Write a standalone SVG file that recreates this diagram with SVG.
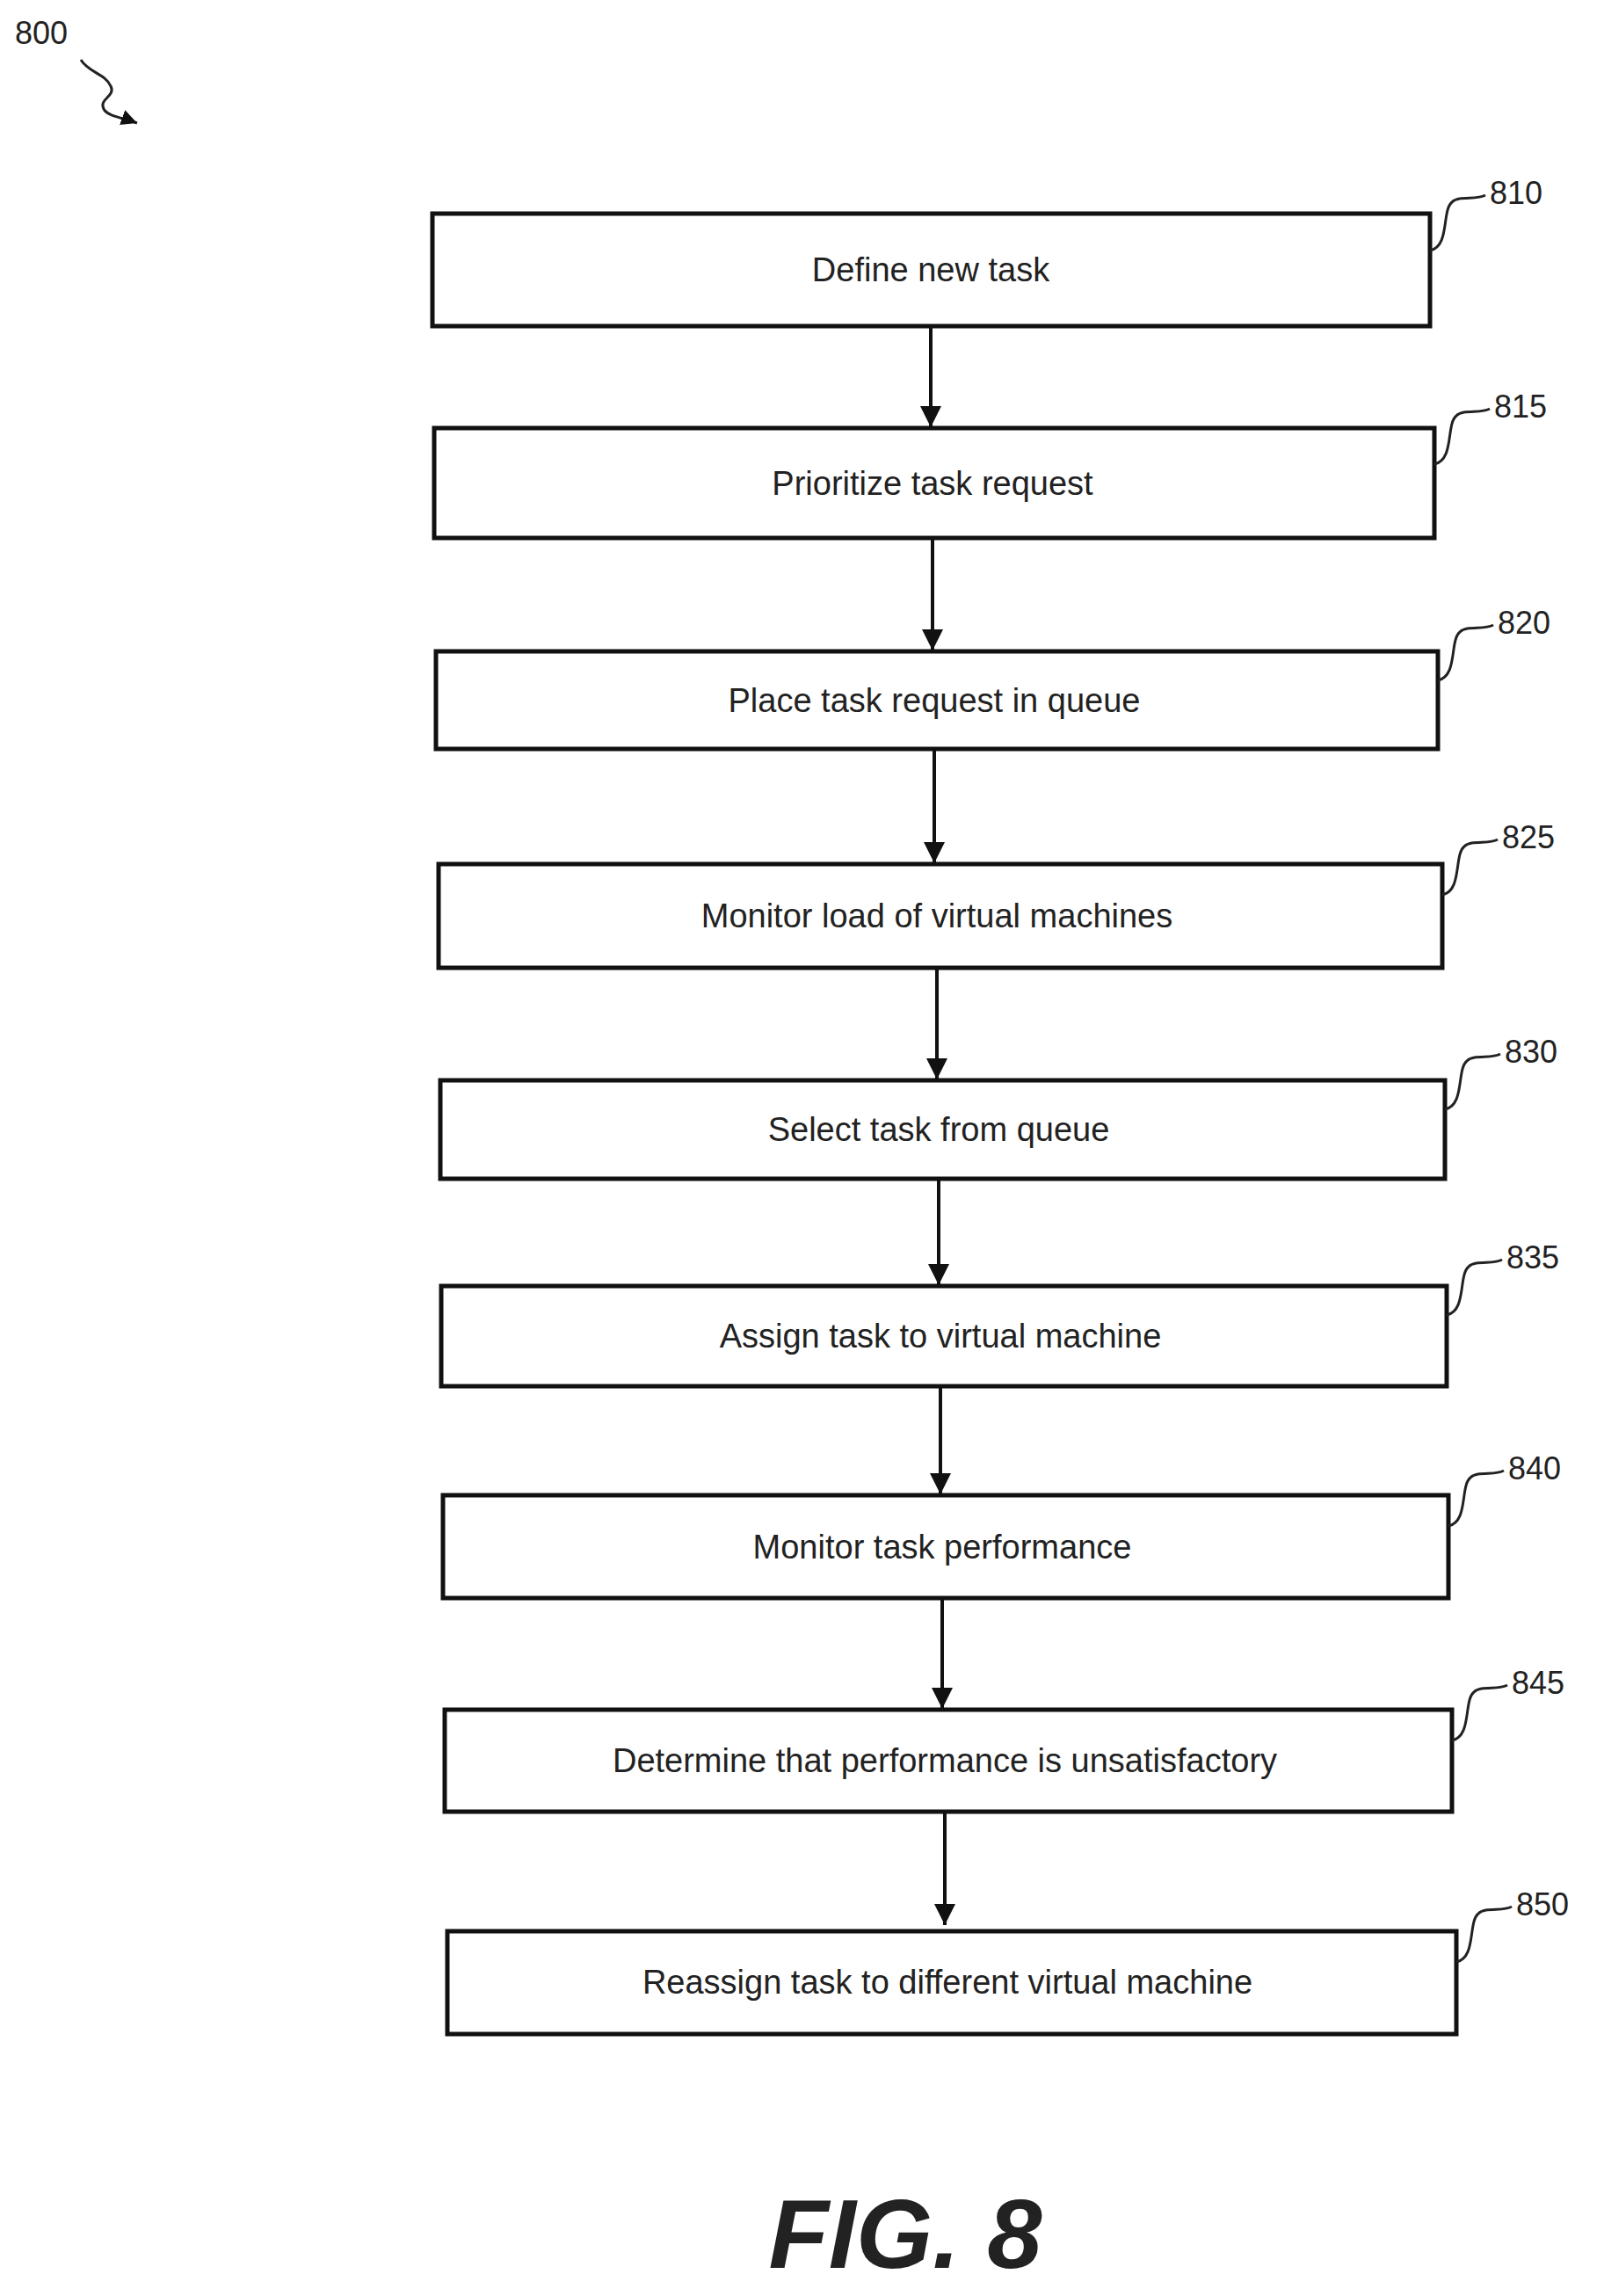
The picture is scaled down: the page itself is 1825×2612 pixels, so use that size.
<svg xmlns="http://www.w3.org/2000/svg" width="1825" height="2612" viewBox="0 0 1825 2612">
<style>
.box{fill:#fff;stroke:#111;stroke-width:5}
.t{font-family:"Liberation Sans",Arial,sans-serif;font-size:38px;fill:#222;text-anchor:middle}
.ref{font-family:"Liberation Sans",Arial,sans-serif;font-size:36px;fill:#222}
.ld{fill:none;stroke:#222;stroke-width:3}
.c{stroke:#111;stroke-width:4;fill:none}
</style>
<defs><marker id="ah" viewBox="0 0 10 10" refX="10" refY="5" markerWidth="6" markerHeight="6" markerUnits="strokeWidth" orient="auto"><path d="M0,0L10,5L0,10z" fill="#111"/></marker></defs>
<rect width="1825" height="2612" fill="#fff"/>
<text class="ref" x="17" y="50">800</text>
<path class="ld" d="M92,68 C100,82 120,84 126,98 C132,110 112,112 118,124 C122,132 140,134 156,140" marker-end="url(#ah)"/>
<g id="connectors">
<line class="c" x1="1059" y1="373" x2="1059" y2="486" marker-end="url(#ah)"/>
<line class="c" x1="1061" y1="614" x2="1061" y2="740" marker-end="url(#ah)"/>
<line class="c" x1="1063" y1="854" x2="1063" y2="982" marker-end="url(#ah)"/>
<line class="c" x1="1066" y1="1103" x2="1066" y2="1228" marker-end="url(#ah)"/>
<line class="c" x1="1068" y1="1343" x2="1068" y2="1462" marker-end="url(#ah)"/>
<line class="c" x1="1070" y1="1579" x2="1070" y2="1700" marker-end="url(#ah)"/>
<line class="c" x1="1072" y1="1820" x2="1072" y2="1944" marker-end="url(#ah)"/>
<line class="c" x1="1075" y1="2063" x2="1075" y2="2190" marker-end="url(#ah)"/>
</g>
<g id="n810"><rect class="box" x="492" y="243" width="1135" height="128"/><text class="t" x="1059" y="320">Define new task</text><path class="ld" d="M1627,285 C1650,280 1640,240 1652,230 C1660,222 1680,228 1690,222"/><text class="ref" x="1695" y="232">810</text></g>
<g id="n815"><rect class="box" x="494" y="487" width="1138" height="125"/><text class="t" x="1061" y="563">Prioritize task request</text><path class="ld" d="M1632,528 C1655,523 1645,483 1657,473 C1665,465 1685,471 1695,465"/><text class="ref" x="1700" y="475">815</text></g>
<g id="n820"><rect class="box" x="496" y="741" width="1140" height="111"/><text class="t" x="1063" y="810">Place task request in queue</text><path class="ld" d="M1636,774 C1659,769 1649,729 1661,719 C1669,711 1689,717 1699,711"/><text class="ref" x="1704" y="721">820</text></g>
<g id="n825"><rect class="box" x="499" y="983" width="1142" height="118"/><text class="t" x="1066" y="1055">Monitor load of virtual machines</text><path class="ld" d="M1641,1018 C1664,1013 1654,973 1666,963 C1674,955 1694,961 1704,955"/><text class="ref" x="1709" y="965">825</text></g>
<g id="n830"><rect class="box" x="501" y="1229" width="1143" height="112"/><text class="t" x="1068" y="1298">Select task from queue</text><path class="ld" d="M1644,1262 C1667,1257 1657,1217 1669,1207 C1677,1199 1697,1205 1707,1199"/><text class="ref" x="1712" y="1209">830</text></g>
<g id="n835"><rect class="box" x="502" y="1463" width="1144" height="114"/><text class="t" x="1070" y="1533">Assign task to virtual machine</text><path class="ld" d="M1646,1496 C1669,1491 1659,1451 1671,1441 C1679,1433 1699,1439 1709,1433"/><text class="ref" x="1714" y="1443">835</text></g>
<g id="n840"><rect class="box" x="504" y="1701" width="1144" height="117"/><text class="t" x="1072" y="1773">Monitor task performance</text><path class="ld" d="M1648,1736 C1671,1731 1661,1691 1673,1681 C1681,1673 1701,1679 1711,1673"/><text class="ref" x="1716" y="1683">840</text></g>
<g id="n845"><rect class="box" x="506" y="1945" width="1146" height="116"/><text class="t" x="1075" y="2016">Determine that performance is unsatisfactory</text><path class="ld" d="M1652,1980 C1675,1975 1665,1935 1677,1925 C1685,1917 1705,1923 1715,1917"/><text class="ref" x="1720" y="1927">845</text></g>
<g id="n850"><rect class="box" x="509" y="2197" width="1148" height="117"/><text class="t" x="1078" y="2268">Reassign task to different virtual machine</text><path class="ld" d="M1657,2232 C1680,2227 1670,2187 1682,2177 C1690,2169 1710,2175 1720,2169"/><text class="ref" x="1725" y="2179">850</text></g>
<text x="1030" y="2580" font-family="Liberation Sans,Arial,sans-serif" font-size="112" font-weight="bold" font-style="italic" text-anchor="middle" fill="#222">FIG. 8</text>
</svg>
